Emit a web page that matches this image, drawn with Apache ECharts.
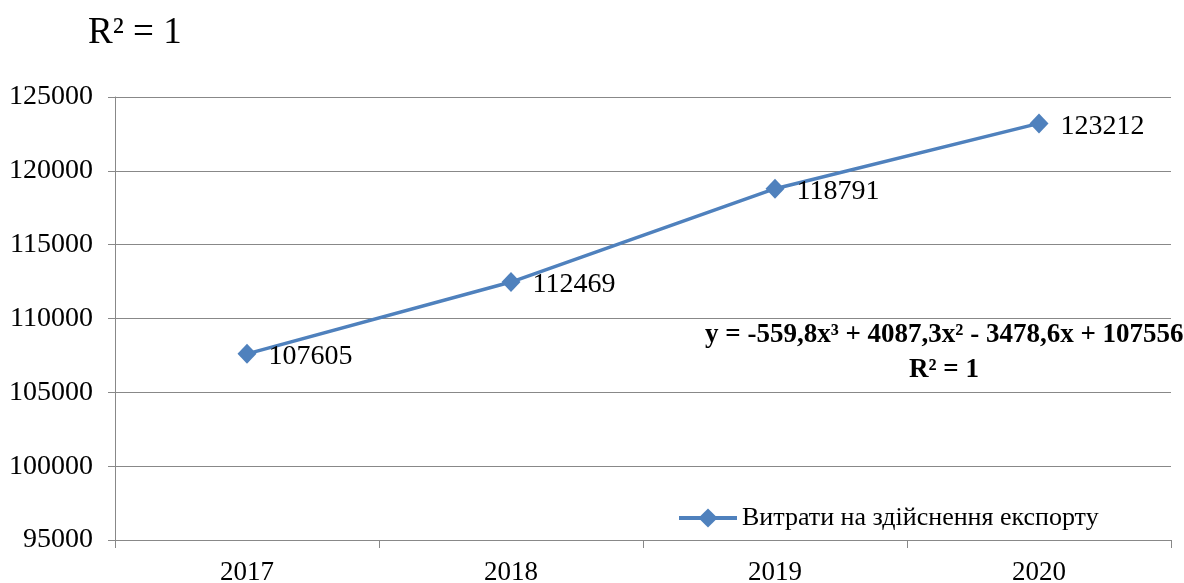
<!DOCTYPE html>
<html>
<head>
<meta charset="utf-8">
<script src="https://cdn.jsdelivr.net/npm/echarts@6/dist/echarts.min.js"></script>
<style>
  html, body { margin: 0; padding: 0; background: #fff; }
  #chart { width: 1184px; height: 583px; }
</style>
</head>
<body>
<div id="chart"></div>
<script>
  const years = ['2017', '2018', '2019', '2020'];
  const costs = [107605, 112469, 118791, 123212];
  const seriesName = 'Витрати на здійснення експорту';
  const trendText = 'y = -559,8x³ + 4087,3x² - 3478,6x + 107556';
  const r2Text = 'R² = 1';

  const font = '"Liberation Serif", "Times New Roman", serif';
  const gray = '#888';
  const blue = '#4F81BD';

  const chart = echarts.init(document.getElementById('chart'));
  chart.setOption({
    animation: false,
    textStyle: { fontFamily: font },
    grid: { left: 115, right: 13, top: 97, bottom: 43, outerBoundsMode: 'none' },
    legend: {
      data: [seriesName],
      left: 672,
      top: 500,
      itemWidth: 58,
      itemHeight: 24,
      lineStyle: { width: 4 },
      textStyle: { fontFamily: font, fontSize: 26, color: '#000' }
    },
    xAxis: {
      type: 'category',
      data: years,
      boundaryGap: true,
      axisLine: { lineStyle: { color: gray } },
      axisTick: { show: true, length: 8, lineStyle: { color: gray } },
      axisLabel: { color: '#000', fontSize: 27, margin: 19, fontFamily: font }
    },
    yAxis: {
      type: 'value',
      min: 95000,
      max: 125000,
      interval: 5000,
      axisLine: { show: true, lineStyle: { color: gray } },
      axisTick: { show: true, length: 7, lineStyle: { color: gray } },
      axisLabel: {
        color: '#000', fontSize: 28, margin: 22, fontFamily: font,
        formatter: v => String(v)
      },
      splitLine: { lineStyle: { color: gray } }
    },
    series: [{
      name: seriesName,
      type: 'line',
      data: costs,
      symbol: 'diamond',
      symbolSize: [19, 20],
      lineStyle: { color: blue, width: 3.5 },
      itemStyle: { color: blue },
      label: {
        show: true,
        position: 'right',
        distance: 12,
        offset: [0, 3],
        color: '#000',
        fontSize: 28,
        fontFamily: font
      }
    }],
    graphic: [
      {
        type: 'text', left: 88, top: 15,
        style: { text: r2Text, font: '37px ' + font, fill: '#000' }
      },
      {
        type: 'text', left: 705, top: 322,
        style: { text: trendText, font: 'bold 27px ' + font, fill: '#000' }
      },
      {
        type: 'text', left: 909, top: 357,
        style: { text: r2Text, font: 'bold 27px ' + font, fill: '#000' }
      }
    ]
  });
</script>
</body>
</html>
